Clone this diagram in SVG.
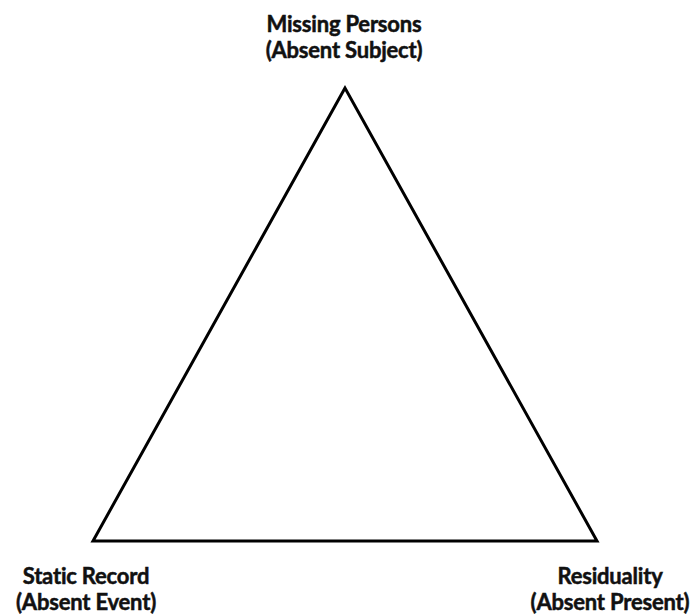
<svg xmlns="http://www.w3.org/2000/svg" width="695" height="616" viewBox="0 0 695 616">
<style>
.lbl{font-family:Lato,"Open Sans","Liberation Sans",sans-serif;font-weight:bold;font-size:22px;letter-spacing:-0.2px;fill:#111;stroke:#111;stroke-width:0.5px;text-anchor:middle}
.edge{fill:none;stroke:#000;stroke-width:3;stroke-linejoin:miter}
</style>
<rect width="695" height="616" fill="#fff"/>
<g id="connectors">
<path class="edge" d="M345,88 L93,541 L597,541 Z"/>
</g>
<g id="node-missing">
<text class="lbl" x="344" y="32">Missing Persons</text>
<text class="lbl" x="344" y="58">(Absent Subject)</text>
</g>
<g id="node-static">
<text class="lbl" x="86" y="584">Static Record</text>
<text class="lbl" x="86" y="610">(Absent Event)</text>
</g>
<g id="node-residuality">
<text class="lbl" x="610" y="584">Residuality</text>
<text class="lbl" x="610" y="610">(Absent Present)</text>
</g>
</svg>
